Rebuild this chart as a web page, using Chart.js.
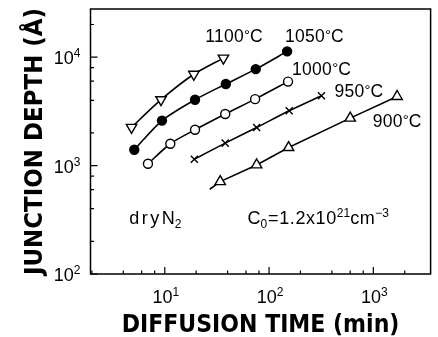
<!DOCTYPE html>
<html>
<head>
<meta charset="utf-8">
<script src="https://cdn.jsdelivr.net/npm/chart.js@4/dist/chart.umd.min.js"></script>
<style>
  html, body { margin: 0; padding: 0; background: #fff; }
</style>
</head>
<body>
<canvas id="depthChart" width="438" height="337"></canvas>
<script>
// diffusion time (min) and junction depth (A)
var time1100 = [4.8, 9.2, 19, 36.5];
var depth1100 = [2250, 4050, 6950, 9800];

var time1050 = [5.1, 9.4, 19.5, 38.5, 74.5, 149];
var depth1050 = [1400, 2600, 4050, 5650, 7750, 11300];

var time1000 = [6.9, 11.3, 19.5, 38, 73.5, 152];
var depth1000 = [1040, 1590, 2140, 2990, 4100, 5950];

var time950 = [19.2, 38, 76, 156, 318];
var depth950 = [1145, 1610, 2245, 3200, 4400];

// first entry is where the drawn line starts, no marker there
var time900 = [27, 34, 76, 154, 600, 1690];
var depth900 = [605, 711, 1014, 1466, 2740, 4335];

var xTickValues = [2, 4, 6, 8, 10, 20, 40, 60, 80, 100, 200, 400, 600, 800, 1000, 2000];
var yTickValues = [100, 200, 400, 600, 800, 1000, 2000, 4000, 6000, 8000, 10000, 20000];

var FONT = "'Liberation Sans', Arial, sans-serif";

function toPoints(xs, ys) {
    return xs.map(function (v, i) { return { x: v, y: ys[i] }; });
}

function isDecade(v) {
    var l = Math.log10(v);
    return Math.abs(l - Math.round(l)) < 1e-6;
}

// parts: [text, font size, vertical shift, letter spacing]
function richWidth(ctx, parts) {
    var w = 0;
    parts.forEach(function (p) {
        ctx.font = p[1] + 'px ' + FONT;
        ctx.letterSpacing = (p[3] || 0) + 'px';
        w += ctx.measureText(p[0]).width;
    });
    return w;
}

function drawRich(ctx, parts, x, y) {
    parts.forEach(function (p) {
        ctx.font = p[1] + 'px ' + FONT;
        ctx.letterSpacing = (p[3] || 0) + 'px';
        ctx.fillText(p[0], x, y + p[2]);
        x += ctx.measureText(p[0]).width;
    });
}

function powerParts(v) {
    return [['10', 18, 0], [String(Math.round(Math.log10(v))), 12, -7]];
}

var titleFamily = "'DejaVu Sans Condensed', 'DejaVu Sans', sans-serif";

// inward tick marks, frame, power-of-ten labels and the notes inside the plot
var frameAndNotes = {
    id: 'frameAndNotes',
    afterDraw: function (chart) {
        var ctx = chart.ctx;
        var a = chart.chartArea;
        var xs = chart.scales.x;
        var ys = chart.scales.y;
        ctx.save();
        ctx.strokeStyle = '#000';
        ctx.lineWidth = 1.5;
        ctx.strokeRect(a.left, a.top, a.right - a.left, a.bottom - a.top);
        ctx.lineWidth = 1.2;
        ctx.beginPath();
        xs.ticks.forEach(function (t) {
            var px = xs.getPixelForValue(t.value);
            var len = isDecade(t.value) ? 7 : 3.5;
            ctx.moveTo(px, a.bottom);
            ctx.lineTo(px, a.bottom - len);
        });
        ys.ticks.forEach(function (t) {
            var py = ys.getPixelForValue(t.value);
            var len = isDecade(t.value) ? 7 : 3.5;
            ctx.moveTo(a.left, py);
            ctx.lineTo(a.left + len, py);
        });
        ctx.stroke();

        ctx.fillStyle = '#000';
        ctx.textAlign = 'left';
        ctx.textBaseline = 'alphabetic';

        xs.ticks.forEach(function (t) {
            if (!isDecade(t.value)) return;
            var parts = powerParts(t.value);
            var w = richWidth(ctx, parts);
            drawRich(ctx, parts, xs.getPixelForValue(t.value) - w / 2 + 1, a.bottom + 29);
        });
        ys.ticks.forEach(function (t) {
            if (!isDecade(t.value)) return;
            var parts = powerParts(t.value);
            var w = richWidth(ctx, parts);
            drawRich(ctx, parts, a.left - 10 - w, ys.getPixelForValue(t.value) + 7);
        });

        var notes = [
            ['1100', 24.4, 13870],
            ['1050', 142, 13870],
            ['1000', 166, 6880],
            ['950', 423, 4305],
            ['900', 986, 2275]
        ];
        notes.forEach(function (n) {
            drawRich(ctx, [[n[0], 17.5, 0, 0.3], ['\u00b0', 15, -2], ['C', 17.5, 0]],
                xs.getPixelForValue(n[1]), ys.getPixelForValue(n[2]));
        });
        drawRich(ctx, [['dry', 18, 0, 2.5], ['N', 18, 0], ['2', 12, 4]],
            xs.getPixelForValue(4.57), ys.getPixelForValue(290));
        drawRich(ctx, [['C', 18, 0], ['0', 12, 4, 1], ['=1.2x10', 18, 0, 0.6], ['21', 12, -7], ['cm', 18, 0, 0.5], ['\u22123', 12, -7]],
            xs.getPixelForValue(62), ys.getPixelForValue(290));
        ctx.restore();
    }
};

function series(label, xs, ys, style, extra) {
    var ds = {
        label: label,
        data: toPoints(xs, ys),
        borderColor: '#000',
        borderWidth: 1.6,
        backgroundColor: '#fff',
        pointBorderColor: '#000',
        pointBorderWidth: 1.4,
        pointStyle: style,
        pointRadius: 5,
        tension: 0.25,
        fill: false
    };
    Object.keys(extra || {}).forEach(function (k) { ds[k] = extra[k]; });
    return ds;
}

function noPadding(s) {
    s.paddingTop = 0;
    s.paddingBottom = 0;
    s.paddingLeft = 0;
    s.paddingRight = 0;
}

var ctx = document.getElementById('depthChart').getContext('2d');
new Chart(ctx, {
    type: 'line',
    data: {
        datasets: [
            series('1100', time1100, depth1100, 'triangle', { pointRotation: 180, pointRadius: 6 }),
            series('1050', time1050, depth1050, 'circle', { pointBackgroundColor: '#000', pointRadius: 4.5 }),
            series('1000', time1000, depth1000, 'circle', { pointRadius: 4.5 }),
            series('950', time950, depth950, 'crossRot', { pointRadius: 5 }),
            series('900', time900, depth900, 'triangle', { pointRadius: [0, 6, 6, 6, 6, 6], tension: 0 })
        ]
    },
    options: {
        responsive: false,
        animation: false,
        devicePixelRatio: 1,
        layout: { padding: { top: 9, right: 2, left: 0, bottom: 0 } },
        plugins: {
            legend: { display: false },
            tooltip: { enabled: false }
        },
        scales: {
            x: {
                type: 'logarithmic',
                min: 1.94,
                max: 3540,
                afterBuildTicks: function (s) {
                    s.ticks = xTickValues.map(function (v) { return { value: v }; });
                },
                afterFit: function (s) { s.height = 63; noPadding(s); },
                grid: { display: false },
                border: { display: false },
                ticks: { autoSkip: false, maxRotation: 0, callback: function () { return ''; } },
                title: {
                    display: true,
                    text: 'DIFFUSION TIME (min)',
                    color: '#000',
                    font: { family: titleFamily, size: 24.5, weight: 'bold' },
                    padding: { top: 0, bottom: -3.5 }
                }
            },
            y: {
                type: 'logarithmic',
                min: 100,
                max: 27800,
                afterBuildTicks: function (s) {
                    s.ticks = yTickValues.map(function (v) { return { value: v }; });
                },
                afterFit: function (s) { s.width = 90.5; noPadding(s); },
                grid: { display: false },
                border: { display: false },
                ticks: { autoSkip: false, callback: function () { return ''; } },
                title: {
                    display: true,
                    text: 'JUNCTION DEPTH (\u00c5)',
                    color: '#000',
                    font: { family: titleFamily, size: 25.5, weight: 'bold' },
                    padding: { top: 20.5, bottom: 0 }
                }
            }
        }
    },
    plugins: [frameAndNotes]
});
</script>
</body>
</html>
